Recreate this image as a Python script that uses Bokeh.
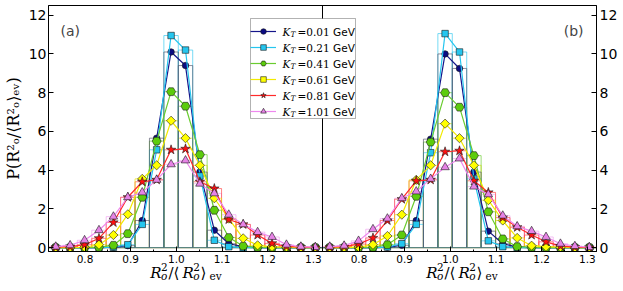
import numpy as np
from bokeh.plotting import figure
from bokeh.layouts import column
from bokeh.models import (Range1d, LinearAxis, FixedTicker, Span, Label, Legend, LegendItem,
                          BoxAnnotation)
from bokeh.embed import file_html
from bokeh.resources import INLINE

# ---------------- data ----------------
BIN_EDGES = np.linspace(0.72, 1.32, 20)   # histogram bin grid (19 bins)

KT_VALUES = ["0.01", "0.21", "0.41", "0.61", "0.81", "1.01"]

# panel (a)
A_001 = [0, 0, 0, 0, 0.02, 0.10, 1.40, 5.65, 10.10, 9.40, 3.90, 0.90, 0.20, 0.05, 0, 0, 0, 0, 0]
A_021 = [0, 0, 0, 0, 0.02, 0.15, 1.20, 5.05, 10.95, 10.20, 3.70, 0.38, 0.05, 0, 0, 0, 0, 0, 0]
A_041 = [0, 0, 0, 0.02, 0.12, 0.72, 2.60, 5.50, 8.05, 7.30, 4.80, 1.93, 0.52, 0.08, 0.02, 0, 0, 0, 0]
A_061 = [0, 0, 0.02, 0.15, 0.65, 1.72, 3.55, 4.25, 6.55, 5.65, 4.25, 2.55, 1.50, 0.48, 0.12, 0.04, 0.02, 0, 0]
A_081 = [0.02, 0.05, 0.15, 0.48, 1.30, 2.60, 3.40, 3.50, 5.05, 5.10, 3.40, 3.05, 1.45, 1.20, 0.65, 0.22, 0.06, 0.02, 0.01]
A_101 = [0.05, 0.12, 0.38, 0.90, 1.60, 2.60, 2.85, 3.50, 4.30, 4.50, 3.30, 2.80, 1.70, 1.20, 0.80, 0.55, 0.15, 0.05, 0.02]

# panel (b)
B_001 = [0, 0, 0, 0, 0.02, 0.12, 1.40, 5.60, 10.00, 9.25, 3.90, 0.85, 0.20, 0.03, 0, 0, 0, 0, 0]
B_021 = [0, 0, 0, 0, 0.03, 0.20, 1.20, 4.90, 11.05, 10.10, 3.55, 0.35, 0.05, 0, 0, 0, 0, 0, 0]
B_041 = [0, 0, 0, 0.02, 0.15, 0.65, 2.65, 5.45, 8.00, 7.25, 4.75, 1.85, 0.45, 0.05, 0.02, 0, 0, 0, 0]
B_061 = [0, 0, 0.03, 0.15, 0.60, 1.70, 3.50, 4.25, 6.40, 5.65, 4.25, 2.45, 1.40, 0.50, 0.10, 0.05, 0.02, 0, 0]
B_081 = [0.02, 0.05, 0.18, 0.50, 1.40, 2.50, 3.45, 3.50, 4.95, 5.00, 3.45, 2.85, 1.55, 1.05, 0.65, 0.30, 0.08, 0.03, 0.01]
B_101 = [0.05, 0.10, 0.35, 0.95, 1.50, 2.55, 2.90, 3.55, 4.15, 4.60, 3.15, 2.75, 1.65, 1.10, 0.85, 0.55, 0.20, 0.08, 0.02]

PANEL_A = [A_001, A_021, A_041, A_061, A_081, A_101]
PANEL_B = [B_001, B_021, B_041, B_061, B_081, B_101]

X_TICKS = [0.8, 0.9, 1.0, 1.1, 1.2, 1.3]
X_TICK_LABELS = ["0.8", "0.9", "1.0", "1.1", "1.2", "1.3"]
X_MINOR_TICKS = [0.75, 0.85, 0.95, 1.05, 1.15, 1.25]
Y_TICKS = [0, 2, 4, 6, 8, 10, 12]
Y_TICK_LABELS = ["0", "2", "4", "6", "8", "10", "12"]
Y_TITLE = "P(R\u00b2\u2092/\u27e8R\u00b2\u2092\u27e9\u2091\u1d65)"
PANEL_TAGS = ["(a)", "(b)"]

# ---------------- styles ----------------
# marker, size, fill, line colour, histogram colour, marker angle
STYLES = [
    ("circle", 6.5, "#0b0b82", "#15158a", "#55556a", 0.0),
    ("square", 6.5, "#25c6ef", "#25c6ef", "#30c8f0", 0.0),
    ("hex", 9, "#5ccc0c", "#6acc30", "#6acc30", 0.0),
    ("square", 6.5, "#ffff00", "#f2ea00", "#eee400", np.pi / 4),
    ("star", 10, "#ff1010", "#ff2a2a", "#ff4040", 0.0),
    ("triangle", 8.5, "#e683e6", "#ee88ee", "#f0a0f0", 0.0),
]

X_LO, X_HI = 0.72, 1.32
SPAN_X = X_HI - X_LO
Y_LO, Y_HI = -0.2, 12.5

ML, MR, MT, MB = 46, 22, 5, 17
FW, FH = 552, 246
W = ML + FW + MR
H = MT + FH + MB
XH = 33                     # height of the x-label strip
XOVER = 15                  # strip overlaps the tick-label band by this much

p = figure(width=W, height=H, output_backend="svg", toolbar_location=None,
           x_range=Range1d(X_LO, X_HI + SPAN_X), y_range=Range1d(Y_LO, Y_HI),
           min_border_left=ML, min_border_right=MR, min_border_top=MT, min_border_bottom=MB)
p.extra_x_ranges = {"right": Range1d(X_LO - SPAN_X, X_HI)}
p.xgrid.visible = False
p.ygrid.visible = False
p.outline_line_color = "black"
p.outline_line_width = 1
p.background_fill_color = "white"

x_pos = list(X_TICKS) + [t + SPAN_X for t in X_TICKS]
x_minor = list(X_MINOR_TICKS) + [t + SPAN_X for t in X_MINOR_TICKS]
x_over = dict(zip(x_pos, X_TICK_LABELS + X_TICK_LABELS))
y_over = dict(zip(Y_TICKS, Y_TICK_LABELS))


def style_axis(ax, standoff, size):
    ax.axis_line_color = "black"
    ax.major_tick_in = 5
    ax.major_tick_out = 0
    ax.minor_tick_in = 2
    ax.minor_tick_out = 0
    ax.major_tick_line_color = "black"
    ax.minor_tick_line_color = "black"
    ax.major_label_text_font = "DejaVu Sans"
    ax.major_label_text_font_size = size
    ax.major_label_text_color = "black"
    ax.major_label_standoff = standoff


xa = p.xaxis[0]
xa.ticker = FixedTicker(ticks=x_pos, minor_ticks=x_minor)
xa.major_label_overrides = x_over
style_axis(xa, 3, "10.5px")

ya = p.yaxis[0]
ya.ticker = FixedTicker(ticks=Y_TICKS, minor_ticks=[])
ya.major_label_overrides = y_over
style_axis(ya, 2, "14px")
ya.axis_label = Y_TITLE
ya.axis_label_text_font = "DejaVu Serif"
ya.axis_label_text_font_style = "normal"
ya.axis_label_text_font_size = "16px"
ya.axis_label_text_color = "black"
ya.axis_label_standoff = 3

yr = LinearAxis(ticker=FixedTicker(ticks=Y_TICKS, minor_ticks=[]), major_label_overrides=y_over)
style_axis(yr, 3, "14px")
p.add_layout(yr, "right")

divider = Span(location=X_HI, dimension="height", line_color="black", line_width=1)
p.add_layout(divider)

# ---------------- glyphs ----------------
centers = 0.5 * (BIN_EDGES[:-1] + BIN_EDGES[1:])
panels = [(PANEL_A, {}), (PANEL_B, {"x_range_name": "right"})]

# histograms (outlined bars), drawn underneath, darkest last
for series, kw in panels:
    for i in reversed(range(len(series))):
        hc = STYLES[i][4]
        p.quad(left=BIN_EDGES[:-1], right=BIN_EDGES[1:], bottom=0, top=series[i],
               fill_alpha=0, line_color=hc, line_alpha=0.65, line_width=1, **kw)

legend_items = []
for pi_, (series, kw) in enumerate(panels):
    for i, vals in enumerate(series):
        marker, size, fill, lc, hc, ang = STYLES[i]
        lr = p.line(centers, vals, line_color=lc, line_width=1.2, **kw)
        sr = p.scatter(centers, vals, marker=marker, size=size, angle=ang,
                       fill_color=fill, line_color="#1a1a1a", line_width=0.6, **kw)
        if pi_ == 0:
            legend_items.append(LegendItem(label=" ", renderers=[lr, sr]))

# ---------------- legend ----------------
PAD, LH, SP, GW, STAND = 3, 14, 2, 26, 3
LEG_W = 105
LEG_H = 2 * PAD + 6 * LH + 5 * SP
LEG_X = 202
LEG_Y = FH - 13 - LEG_H

box = BoxAnnotation(left=LEG_X, right=LEG_X + LEG_W, bottom=LEG_Y, top=LEG_Y + LEG_H,
                    left_units="screen", right_units="screen", bottom_units="screen",
                    top_units="screen", fill_color="white", fill_alpha=1.0,
                    line_color="black", line_width=1)
p.add_layout(box)

leg = Legend(items=legend_items, location=(LEG_X, LEG_Y), orientation="vertical",
             background_fill_alpha=0.0, border_line_color=None,
             padding=PAD, spacing=SP, margin=0, label_height=LH, glyph_height=LH,
             glyph_width=GW, label_standoff=STAND, label_text_font_size="10px")
p.add_layout(leg)

# ---------------- rich text helper ----------------
EM = {
    "sans": {"P": .603, "(": .390, ")": .390, "G": .775, "e": .615, "V": .684, " ": .318},
    "serif": {"R": .72, "K": .76, "T": .66, "2": .636, "o": .602, "/": .337, "e": .592,
              "v": .652, "=": .838, "0": .636, "1": .636, ".": .318, "4": .636, "6": .636, "8": .636},
}
FONT = {"sans": "DejaVu Sans", "serif": "DejaVu Serif"}


def twidth(text, fam, size):
    return sum(EM[fam].get(c, 0.6) for c in text) * size


def compose(fig, tokens, x0, y0, center=True):
    total = sum(twidth(t, f, s) + g for (t, f, st, s, dy, adv, g) in tokens if adv)
    pos = x0 - (total / 2 if center else 0)
    for (t, f, st, s, dy, adv, g) in tokens:
        fig.add_layout(Label(x=pos, y=y0 + dy, text=t, x_units="screen", y_units="screen",
                             text_font=FONT[f], text_font_style=st, text_font_size=f"{s}px",
                             text_color="black", text_align="left", text_baseline="alphabetic"))
        if adv:
            pos += twidth(t, f, s) + g


def math_ratio(size, small, up, down):
    return [
        ("R", "serif", "italic", size, 0, True, 0),
        ("2", "serif", "normal", small, up, False, 0),
        ("o", "serif", "italic", small, -down, True, 1),
        ("/", "serif", "normal", size, 0, True, 0),
        ("\u27e8", "serif", "normal", size, 0, True, 0),
        ("R", "serif", "italic", size, 0, True, 0),
        ("2", "serif", "normal", small, up, False, 0),
        ("o", "serif", "italic", small, -down, True, 1),
        ("\u27e9", "serif", "normal", size, 0, True, 0),
        ("ev", "serif", "normal", small, -down, True, 0),
    ]


def strip(w, h):
    f = figure(width=w, height=h, output_backend="svg", toolbar_location=None, min_border=0,
               x_range=Range1d(0, w), y_range=Range1d(0, h),
               x_axis_location=None, y_axis_location=None)
    f.outline_line_color = None
    f.xgrid.visible = False
    f.ygrid.visible = False
    f.background_fill_alpha = 0.0
    f.border_fill_alpha = 0.0
    return f


# x-axis labels (one per panel), in a transparent strip under the main figure;
# the layout aligns the strip's frame with the main frame
xlab = strip(W, XH)
xlab.margin = (-XOVER, 0, 0, 0)
for k in range(2):
    compose(xlab, math_ratio(15, 10.5, 6, 3.5), FW * (0.25 + 0.5 * k), 14)

# legend label texts
tx = LEG_X + PAD + GW + STAND
for i, kt in enumerate(KT_VALUES):
    cy = LEG_Y + LEG_H - PAD - i * (LH + SP) - LH / 2 - 3.5
    toks = [("K", "serif", "italic", 10.5, 0, True, 0),
            ("T", "serif", "italic", 7.5, -2.5, True, 2),
            ("=" + kt, "serif", "normal", 10.5, 0, True, 3.5),
            ("GeV", "sans", "normal", 10.5, 0, True, 0)]
    compose(p, toks, tx, cy, center=False)

# panel tags
p.add_layout(Label(x=12, y=FH - 25, text=PANEL_TAGS[0], x_units="screen", y_units="screen",
                   text_font="DejaVu Sans", text_font_size="14px", text_baseline="middle"))
p.add_layout(Label(x=FW - 17, y=FH - 25, text=PANEL_TAGS[1], x_units="screen", y_units="screen",
                   text_font="DejaVu Sans", text_font_size="14px", text_baseline="middle",
                   text_align="right"))

layout = column(p, xlab)
open("out.html", "w").write(file_html(layout, INLINE))
